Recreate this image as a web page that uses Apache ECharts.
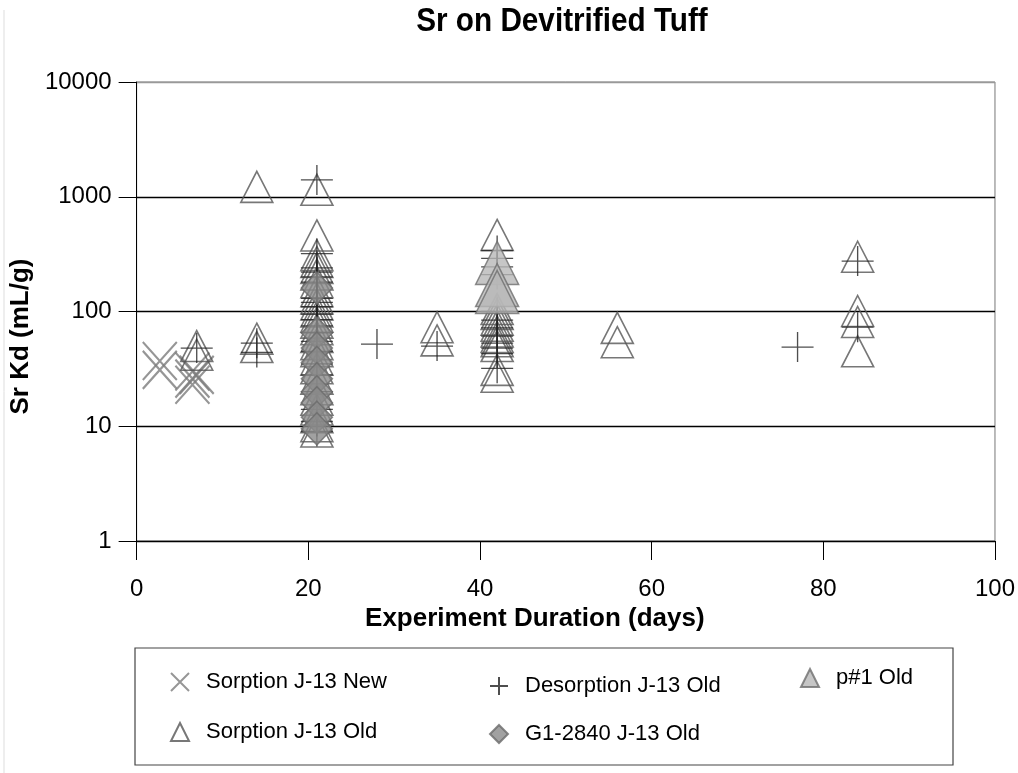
<!DOCTYPE html>
<html>
<head>
<meta charset="utf-8">
<script src="https://cdn.jsdelivr.net/npm/echarts@6/dist/echarts.min.js"></script>
<style>
html,body{margin:0;padding:0;background:#fff;}
#chart{width:1018px;height:773px;}
</style>
</head>
<body>
<div id="chart"></div>
<script>
// ---- data (x = days, y = Sr Kd mL/g) ----
const sorptionNew = [[2.7,37],[2.7,31],[6.5,30],[6.5,26],[6.5,23],[7,28]];
const sorptionOld = [
  [7,50],[7,42],
  [14,1220],[14,58],[14,49],
  [21,1150],[21,460],[21,310],[21,270],[21,240],[21,210],[21,180],[21,150],[21,130],[21,115],[21,100],[21,90],[21,80],[21,70],[21,60],[21,52],[21,45],[21,38],[21,32],[21,26],[21,21],[21,17],[21,14],[21,12],[21,10],[21,9],
  [35,73],[35,56],
  [42,465],[42,105],[42,95],[42,85],[42,75],[42,67],[42,60],[42,55],[42,50],[42,31],[42,27],
  [56,72],[56,54],
  [84,300],[84,101],[84,81],[84,45]
];
const desorptionOld = [
  [7,48],
  [14,53],[14,44],
  [21,1400],[21,320],[21,240],[21,220],[21,200],[21,180],[21,130],[21,120],[21,110],[21,95],[21,85],[21,75],[21,65],[21,55],[21,45],[21,35],[21,28],[21,20],[21,14],[21,11],[21,9],
  [28,52],
  [35,50],
  [42,340],[42,290],[42,245],[42,210],[42,100],[42,84],[42,72],[42,61],[42,53],[42,48],[42,43],[42,32],
  [77,49],
  [84,275],[84,73]
];
const g1_2840 = [[21,160],[21,65],[21,48],[21,36],[21,26],[21,20],[21,16],[21,12],[21,9.5]];
const p1Old = [[42,265],[42,170],[42,148]];

const seriesNames = ['Sorption J-13 New','Sorption J-13 Old','Desorption J-13 Old','G1-2840 J-13 Old','p#1 Old'];
const xTicks = [0,20,40,60,80,100];
const yTicks = [1,10,100,1000,10000];
const chartTitle = 'Sr on Devitrified Tuff';

const FONT = '"Liberation Sans", Arial, sans-serif';
const chart = echarts.init(document.getElementById('chart'));

const legendBase = {
  orient: 'vertical',
  itemWidth: 18, itemHeight: 18,
  itemGap: 0,
  textStyle: {fontFamily: FONT, fontSize: 22, color: '#000', padding: [0,0,0,12]},
  selectedMode: false
};

const option = {
  animation: false,
  backgroundColor: '#fff',
  grid: {left: 125, right: 10, top: 82, bottom: 232, show: true, borderColor: '#777', borderWidth: 1},
  xAxis: {
    type: 'value', min: xTicks[0], max: xTicks[xTicks.length-1], interval: 20,
    name: 'Experiment Duration (days)', nameLocation: 'middle', nameGap: 64,
    nameTextStyle: {fontFamily: FONT, fontSize: 26, fontWeight: 'bold', color: '#000', padding: [0, 62, 0, 0]},
    axisLine: {onZero: false, lineStyle: {color: '#000', width: 1}},
    axisTick: {show: true, inside: false, length: 19, lineStyle: {color: '#000'}},
    axisLabel: {fontFamily: FONT, fontSize: 24, color: '#000', margin: 36},
    splitLine: {show: false}
  },
  yAxis: {
    type: 'log', logBase: 10, min: yTicks[0], max: yTicks[yTicks.length-1],
    name: 'Sr Kd (mL/g)', nameLocation: 'middle', nameGap: 70,
    nameTextStyle: {fontFamily: FONT, fontSize: 26, fontWeight: 'bold', color: '#000', padding: [0, 50, 0, 0]},
    axisLine: {lineStyle: {color: '#000', width: 1}},
    axisTick: {show: true, inside: false, length: 18, lineStyle: {color: '#000'}},
    axisLabel: {fontFamily: FONT, fontSize: 24, color: '#000', margin: 25,
      formatter: v => String(Math.round(v))},
    splitLine: {show: true, lineStyle: {color: ['#000','#000','#000','#000','#999'], width: 1.3}},
    minorTick: {show: false}
  },
  legend: [
    Object.assign({}, legendBase, {data: [seriesNames[0]], left: 165, top: 666}),
    Object.assign({}, legendBase, {data: [seriesNames[1]], left: 165, top: 716}),
    Object.assign({}, legendBase, {data: [seriesNames[2]], left: 484, top: 670}),
    Object.assign({}, legendBase, {data: [seriesNames[3]], left: 484, top: 718}),
    Object.assign({}, legendBase, {data: [seriesNames[4]], left: 795, top: 662})
  ],
  graphic: [
    {type: 'text', x: 562, y: 22, scaleX: 0.9, silent: true,
      style: {text: chartTitle, fill: '#000', font: 'bold 33px "Liberation Sans", Arial, sans-serif', align: 'center', verticalAlign: 'middle'}},
    {type: 'rect', shape: {x: 135, y: 648, width: 818, height: 117}, style: {fill: 'none', stroke: '#444', lineWidth: 1.2}, silent: true, z: -1},
    {type: 'line', shape: {x1: 4, y1: 10, x2: 4, y2: 773}, style: {stroke: '#ddd', lineWidth: 1}, silent: true}
  ],
  series: [
    {
      name: seriesNames[0], type: 'scatter', data: sorptionNew,
      symbol: 'path://M0,0L10,10M10,0L0,10', symbolSize: [34, 38],
      itemStyle: {color: 'rgba(0,0,0,0)', borderColor: '#7c7c7c', borderWidth: 2.2},
      z: 2
    },
    {
      name: seriesNames[1], type: 'scatter', data: sorptionOld,
      symbol: 'triangle', symbolSize: [32, 31],
      itemStyle: {color: 'rgba(0,0,0,0)', borderColor: '#555', borderWidth: 1.6},
      z: 3
    },
    {
      name: seriesNames[2], type: 'scatter', data: desorptionOld,
      symbol: 'path://M0,5L10,5M5,0L5,10', symbolSize: [32, 30],
      itemStyle: {color: 'rgba(0,0,0,0)', borderColor: '#222', borderWidth: 1.3},
      z: 4
    },
    {
      name: seriesNames[3], type: 'scatter', data: g1_2840,
      symbol: 'diamond', symbolSize: [31, 32],
      itemStyle: {color: '#8a8a8a', borderColor: '#6a6a6a', borderWidth: 1.5},
      z: 5
    },
    {
      name: seriesNames[4], type: 'scatter', data: p1Old,
      symbol: 'triangle', symbolSize: [43, 43],
      itemStyle: {color: '#b8b8b8', borderColor: '#6e6e6e', borderWidth: 1.5},
      z: 6
    }
  ]
};
chart.setOption(option);
</script>
</body>
</html>
